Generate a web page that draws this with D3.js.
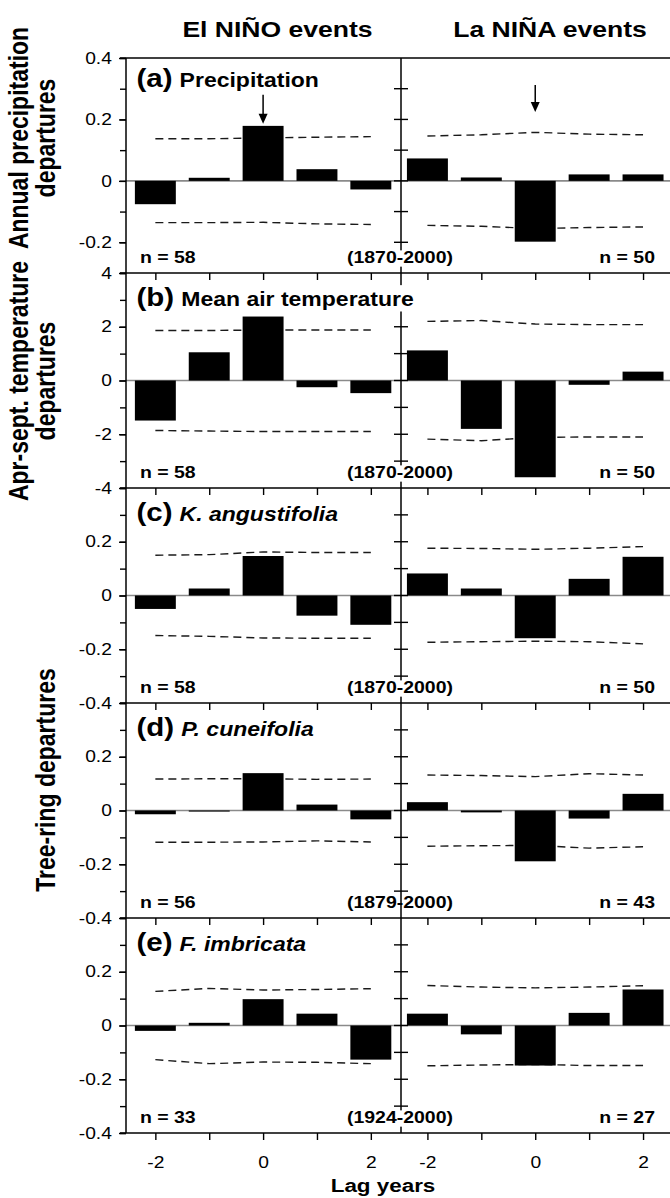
<!DOCTYPE html>
<html>
<head>
<meta charset="utf-8">
<script src="https://cdn.jsdelivr.net/npm/d3@7"></script>
<style>
  html, body { margin: 0; padding: 0; background: #fff; }
  svg { display: block; }
</style>
</head>
<body>
<div id="container"></div>
<script>
// lag years and panel descriptions
var lags = [-2, -1, 0, 1, 2];
var xTickValues = [-2, 0, 2];
var headings = ["El NI\u00d1O events", "La NI\u00d1A events"];
var panelLetters = ["(a)", "(b)", "(c)", "(d)", "(e)"];
var panelTitles = ["Precipitation", "Mean air temperature", "K. angustifolia", "P. cuneifolia", "F. imbricata"];
var yDomains = [[-0.3, 0.4], [-4, 4], [-0.4, 0.4], [-0.4, 0.4], [-0.4, 0.4]];
var yTickLabels = [[0.4, 0.2, 0, -0.2], [4, 2, 0, -2, -4], [0.2, 0, -0.2, -0.4], [0.2, 0, -0.2, -0.4], [0.2, 0, -0.2, -0.4]];
var yMinorSteps = [0.1, 1, 0.1, 0.1, 0.1];

// mean departures, one row per panel, one value per lag
var elNino = [
  [-0.076, 0.01, 0.179, 0.038, -0.028],
  [-1.49, 1.05, 2.38, -0.25, -0.47],
  [-0.05, 0.026, 0.147, -0.075, -0.109],
  [-0.014, -0.004, 0.139, 0.022, -0.033],
  [-0.02, 0.01, 0.098, 0.044, -0.127]
];
var laNina = [
  [0.073, 0.011, -0.198, 0.021, 0.021],
  [1.12, -1.8, -3.6, -0.16, 0.33],
  [0.082, 0.026, -0.159, 0.062, 0.144],
  [0.031, -0.007, -0.189, -0.03, 0.062],
  [0.044, -0.033, -0.149, 0.047, 0.134]
];
// confidence limits (dashed)
var elNinoUpper = [
  [0.137, 0.137, 0.14, 0.142, 0.144],
  [1.86, 1.86, 1.88, 1.88, 1.88],
  [0.15, 0.152, 0.162, 0.16, 0.16],
  [0.117, 0.118, 0.118, 0.116, 0.117],
  [0.127, 0.138, 0.132, 0.134, 0.137]
];
var elNinoLower = [
  [-0.136, -0.136, -0.135, -0.14, -0.142],
  [-1.86, -1.88, -1.9, -1.9, -1.9],
  [-0.149, -0.152, -0.158, -0.159, -0.159],
  [-0.118, -0.118, -0.117, -0.113, -0.117],
  [-0.127, -0.142, -0.136, -0.137, -0.142]
];
var laNinaUpper = [
  [0.146, 0.15, 0.158, 0.152, 0.15],
  [2.2, 2.23, 2.1, 2.08, 2.08],
  [0.176, 0.175, 0.172, 0.176, 0.182],
  [0.132, 0.13, 0.126, 0.137, 0.132],
  [0.149, 0.143, 0.14, 0.143, 0.148]
];
var laNinaLower = [
  [-0.145, -0.148, -0.155, -0.152, -0.15],
  [-2.18, -2.24, -2.12, -2.1, -2.1],
  [-0.174, -0.172, -0.17, -0.172, -0.18],
  [-0.133, -0.131, -0.13, -0.14, -0.135],
  [-0.15, -0.147, -0.145, -0.149, -0.149]
];
var nElNino = [58, 58, 58, 56, 33];
var nLaNina = [50, 50, 50, 43, 27];
var periods = ["(1870-2000)", "(1870-2000)", "(1870-2000)", "(1879-2000)", "(1924-2000)"];
// arrows in panel (a) at lag 0: [from, to]
var arrowElNino = [0.28, 0.186];
var arrowLaNina = [0.312, 0.224];
var yLabels = [["Annual precipitation", "departures"], ["Apr-sept. temperature", "departures"], ["Tree-ring departures"]];

var W = 670, H = 1198;
var FONT = "'Liberation Sans', Arial, Helvetica, sans-serif";
var SX = 1.18; // the figure is a little wider than its type
var axisX = 126, midX = 401, rightX = 670;
var top0 = 58, panelH = 215;
var barHalf = 0.38;

var svg = d3.select("#container").append("svg")
  .attr("width", W).attr("height", H)
  .attr("viewBox", "0 0 " + W + " " + H)
  .style("font-family", FONT);

var xEl = d3.scaleLinear().domain([-2.545, 2.56]).range([axisX, midX]);
var xLa = d3.scaleLinear().domain([-2.49, 2.5]).range([midX, rightX]);

function stretched(parent, x, y) {
  return parent.append("g").attr("transform", "translate(" + x + "," + y + ") scale(" + SX + ",1)");
}
// white box behind a label, hides the divider where they cross
function mask(g, pad) {
  var b = g.select("text").node().getBBox();
  g.insert("rect", "text")
    .attr("x", b.x - pad).attr("y", b.y + 2)
    .attr("width", b.width + 2 * pad).attr("height", b.height - 2)
    .attr("fill", "#fff");
}
function fmt(d) { return d === 0 ? "0" : String(d); }

// headings
headings.forEach(function(h, k) {
  stretched(svg, k === 0 ? 277.5 : 550, 36.5).append("text")
    .attr("text-anchor", "middle")
    .attr("font-size", 22.5).attr("font-weight", "bold")
    .text(h);
});

var line = d3.line();

panelTitles.forEach(function(title, i) {
  var top = top0 + i * panelH, bot = top + panelH;
  var dom = yDomains[i];
  var y = d3.scaleLinear().domain(dom).range([bot, top]);
  var g = svg.append("g");
  var step = yMinorSteps[i];
  var nSteps = Math.round((dom[1] - dom[0]) / step);
  var minor = d3.range(nSteps + 1).map(function(k) { return +(dom[0] + k * step).toFixed(3); });

  // zero line
  g.append("line")
    .attr("x1", axisX).attr("x2", rightX)
    .attr("y1", y(0)).attr("y2", y(0))
    .attr("stroke", "#8a8a8a").attr("stroke-width", 1.6);

  // dashed limits
  [[xEl, elNinoUpper[i]], [xEl, elNinoLower[i]], [xLa, laNinaUpper[i]], [xLa, laNinaLower[i]]].forEach(function(p) {
    var x = p[0];
    g.append("path")
      .attr("d", line(p[1].map(function(v, j) { return [x(lags[j]), y(v)]; })))
      .attr("fill", "none").attr("stroke", "#1a1a1a")
      .attr("stroke-width", 1.4).attr("stroke-dasharray", "8,5");
  });

  // bars
  [[xEl, elNino[i]], [xLa, laNina[i]]].forEach(function(p) {
    var x = p[0];
    g.append("g").selectAll("rect").data(p[1]).enter().append("rect")
      .attr("x", function(d, j) { return x(lags[j] - barHalf); })
      .attr("width", function(d, j) { return x(lags[j] + barHalf) - x(lags[j] - barHalf); })
      .attr("y", function(d) { return y(Math.max(0, d)); })
      .attr("height", function(d) { return Math.abs(y(d) - y(0)); })
      .attr("fill", "#000");
  });

  // left axis: minor then labelled ticks
  var ax = g.append("g").attr("transform", "translate(" + axisX + ",0)");
  ax.append("g").call(d3.axisLeft(y).tickValues(minor).tickSize(6).tickFormat(""))
    .call(function(s) { s.select(".domain").remove(); });
  ax.append("g").call(d3.axisLeft(y).tickValues(yTickLabels[i]).tickSize(7).tickPadding(5).tickFormat(fmt))
    .call(function(s) {
      s.select(".domain").remove();
      s.selectAll("text").attr("font-size", 16.3).attr("font-family", FONT)
        .attr("transform", "scale(" + SX + ",1)");
    });
  ax.selectAll("line").attr("stroke-width", 1.4);

  // divider (La Nina y axis) with crossing ticks
  g.append("line")
    .attr("x1", midX).attr("x2", midX).attr("y1", top).attr("y2", bot)
    .attr("stroke", "#000").attr("stroke-width", 1.5);
  g.append("g").selectAll("line").data(minor.filter(function(v) { return v > dom[0] && v < dom[1]; }))
    .enter().append("line")
    .attr("x1", midX - 7).attr("x2", midX + 7)
    .attr("y1", function(v) { return y(v); }).attr("y2", function(v) { return y(v); })
    .attr("stroke", "#000").attr("stroke-width", 1.4);

  // bottom axis line and ticks
  g.append("line")
    .attr("x1", axisX - 6).attr("x2", rightX).attr("y1", bot).attr("y2", bot)
    .attr("stroke", "#000").attr("stroke-width", 1.5);
  [xEl, xLa].forEach(function(x) {
    g.append("g").attr("transform", "translate(0," + bot + ")")
      .call(d3.axisBottom(x).tickValues(lags).tickSize(7).tickSizeOuter(0).tickPadding(16)
        .tickFormat(function(d) { return i === 4 && xTickValues.indexOf(d) >= 0 ? fmt(d) : ""; }))
      .call(function(s) {
        s.select(".domain").remove();
        s.selectAll("line").attr("stroke-width", 1.4);
        s.selectAll("text").attr("font-size", 16.3).attr("font-family", FONT)
          .attr("transform", "scale(" + SX + ",1)");
      });
  });

  // panel title
  var tg = stretched(g, 136.5, top + (i === 0 ? 29 : 33));
  var t = tg.append("text").attr("font-weight", "bold");
  t.append("tspan").attr("font-size", 25).text(panelLetters[i]);
  t.append("tspan").attr("font-size", 19.5).attr("dx", 6)
    .attr("font-style", i >= 2 ? "italic" : "normal").text(title);
  mask(tg, 2);

  // n and period labels
  stretched(g, 140, bot - 10).append("text")
    .attr("font-size", 16.5).attr("font-weight", "bold").text("n = " + nElNino[i]);
  stretched(g, 655, bot - 10).append("text").attr("text-anchor", "end")
    .attr("font-size", 16.5).attr("font-weight", "bold").text("n = " + nLaNina[i]);
  var pg = stretched(g, 400, bot - 10);
  pg.append("text").attr("text-anchor", "middle")
    .attr("font-size", 16.5).attr("font-weight", "bold").text(periods[i]);
  if (i !== 3) mask(pg, 1);

  // arrows in panel (a)
  if (i === 0) {
    [[xEl, arrowElNino], [xLa, arrowLaNina]].forEach(function(p) {
      var ax0 = p[0](0), y1 = y(p[1][0]), y2 = y(p[1][1]);
      g.append("line").attr("x1", ax0).attr("x2", ax0).attr("y1", y1).attr("y2", y2 - 8)
        .attr("stroke", "#000").attr("stroke-width", 1.5);
      g.append("path")
        .attr("d", "M" + (ax0 - 4.5) + "," + (y2 - 10) + "L" + (ax0 + 4.5) + "," + (y2 - 10) + "L" + ax0 + "," + y2 + "Z")
        .attr("fill", "#000");
    });
  }
});

// frame: top line and main y axis
svg.append("line").attr("x1", axisX - 6).attr("x2", rightX).attr("y1", top0).attr("y2", top0)
  .attr("stroke", "#000").attr("stroke-width", 1.5);
svg.append("line").attr("x1", axisX).attr("x2", axisX).attr("y1", top0).attr("y2", top0 + 5 * panelH)
  .attr("stroke", "#000").attr("stroke-width", 1.5);

// x title
stretched(svg, 383, 1192).append("text").attr("text-anchor", "middle")
  .attr("font-size", 19).attr("font-weight", "bold").text("Lag years");

// y titles
var yLabelPos = [{c: 138, x: [28, 55]}, {c: 381, x: [28, 55]}, {c: 780, x: [55]}];
yLabels.forEach(function(lines, k) {
  lines.forEach(function(txt, j) {
    svg.append("text")
      .attr("transform", "translate(" + yLabelPos[k].x[j] + "," + yLabelPos[k].c + ") scale(" + SX + ",1) rotate(-90)")
      .attr("text-anchor", "middle")
      .attr("font-size", 23).attr("font-weight", "bold")
      .text(txt);
  });
});
</script>
</body>
</html>
